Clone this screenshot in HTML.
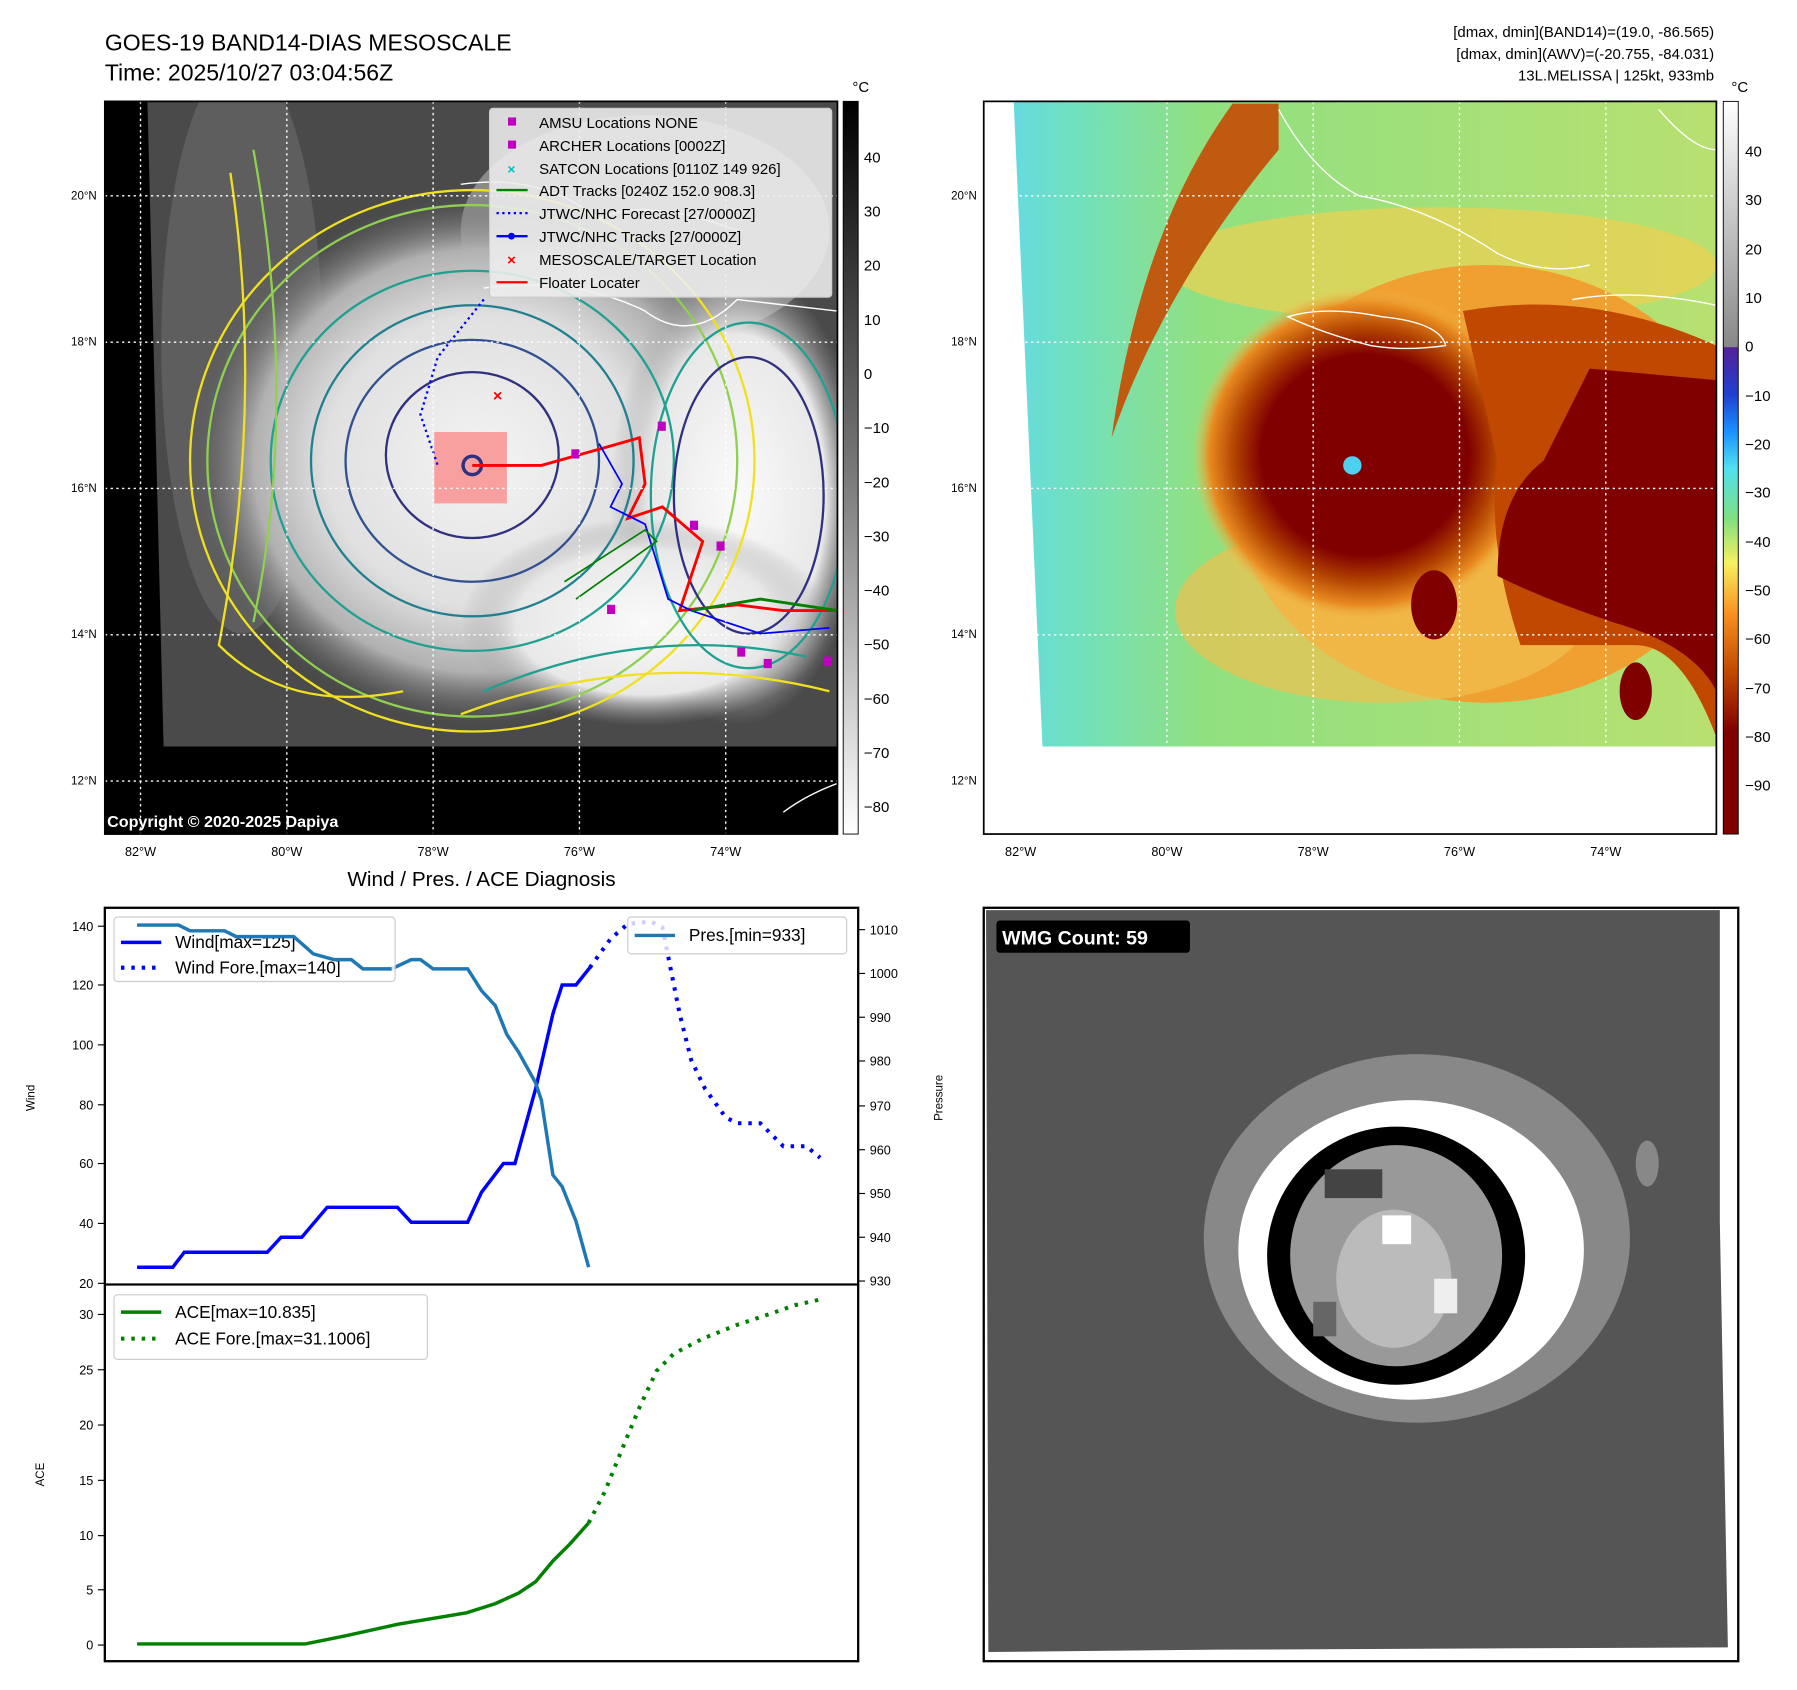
<!DOCTYPE html>
<html><head><meta charset="utf-8"><style>
html,body{margin:0;padding:0;background:#fff;}
svg{display:block;}
text{font-family:"Liberation Sans","DejaVu Sans",sans-serif;}
</style></head><body>
<svg width="1797" height="1690" viewBox="0 0 1560 1467" preserveAspectRatio="none" xmlns="http://www.w3.org/2000/svg">
<defs>
<clipPath id="clipL"><rect x="91" y="88" width="636" height="636"/></clipPath>
<clipPath id="clipR"><polygon points="880,88 1490,88 1490,648 905,648"/></clipPath>
<clipPath id="clipB"><rect x="91" y="788" width="654" height="654"/></clipPath>
<radialGradient id="cloud" cx="0.5" cy="0.5" r="0.5">
<stop offset="0" stop-color="#f4f4f4"/><stop offset="0.55" stop-color="#e0e0e0"/><stop offset="0.8" stop-color="#b0b0b0"/><stop offset="1" stop-color="#666" stop-opacity="0"/>
</radialGradient>
<radialGradient id="cloud2" cx="0.5" cy="0.5" r="0.5">
<stop offset="0" stop-color="#fafafa"/><stop offset="0.7" stop-color="#e8e8e8"/><stop offset="1" stop-color="#999" stop-opacity="0"/>
</radialGradient>
<linearGradient id="cbL" x1="0" y1="0" x2="0" y2="1">
<stop offset="0" stop-color="#000"/><stop offset="0.5" stop-color="#777"/><stop offset="1" stop-color="#fff"/>
</linearGradient>
<linearGradient id="cbR" x1="0" y1="0" x2="0" y2="1">
<stop offset="0" stop-color="#fff"/><stop offset="0.335" stop-color="#888"/><stop offset="0.336" stop-color="#55209a"/>
<stop offset="0.4" stop-color="#2040d0"/><stop offset="0.45" stop-color="#1a90ff"/><stop offset="0.5" stop-color="#50e0f0"/>
<stop offset="0.57" stop-color="#80e080"/><stop offset="0.63" stop-color="#f8f060"/><stop offset="0.7" stop-color="#f89020"/>
<stop offset="0.78" stop-color="#c04800"/><stop offset="0.86" stop-color="#800000"/><stop offset="1" stop-color="#800000"/>
</linearGradient>
<linearGradient id="bgR" x1="0" y1="0" x2="1" y2="0">
<stop offset="0" stop-color="#60d8f0"/><stop offset="0.12" stop-color="#70e0c0"/><stop offset="0.3" stop-color="#90e080"/><stop offset="1" stop-color="#b8e070"/>
</linearGradient>
<radialGradient id="eyeR" cx="0.5" cy="0.5" r="0.5">
<stop offset="0" stop-color="#800000"/><stop offset="0.6" stop-color="#800000"/><stop offset="0.75" stop-color="#b04000"/><stop offset="0.9" stop-color="#e88a20"/><stop offset="1" stop-color="#f0c050" stop-opacity="0"/>
</radialGradient>
</defs>

<text x="91" y="44" font-size="20">GOES-19 BAND14-DIAS MESOSCALE</text>
<text x="91" y="70" font-size="20">Time: 2025/10/27 03:04:56Z</text>
<text x="1488" y="32" font-size="13" text-anchor="end">[dmax, dmin](BAND14)=(19.0, -86.565)</text>
<text x="1488" y="51" font-size="13" text-anchor="end">[dmax, dmin](AWV)=(-20.755, -84.031)</text>
<text x="1488" y="70" font-size="13" text-anchor="end">13L.MELISSA | 125kt, 933mb</text>

<!-- LEFT MAP -->
<rect x="91" y="88" width="636" height="636" fill="#000"/>
<g clip-path="url(#clipL)">
<polygon points="128,88 727,88 727,648 142,648" fill="#4a4a4a"/>
<ellipse cx="210" cy="300" rx="70" ry="250" fill="#5e5e5e"/>
<ellipse cx="560" cy="200" rx="160" ry="100" fill="#8a8a8a"/>
<ellipse cx="420" cy="400" rx="250" ry="230" fill="url(#cloud)"/>
<ellipse cx="640" cy="430" rx="110" ry="200" fill="url(#cloud2)"/>
<ellipse cx="560" cy="540" rx="160" ry="90" fill="url(#cloud2)"/>
<g fill="none" stroke-width="2">
<ellipse cx="410" cy="400" rx="245" ry="235" stroke="#f0e020"/>
<ellipse cx="410" cy="400" rx="230" ry="222" stroke="#8fd050"/>
<ellipse cx="410" cy="400" rx="175" ry="165" stroke="#20a090"/>
<ellipse cx="410" cy="400" rx="140" ry="135" stroke="#208090"/>
<ellipse cx="410" cy="400" rx="110" ry="105" stroke="#305090"/>
<ellipse cx="410" cy="395" rx="75" ry="72" stroke="#303080"/>
<ellipse cx="650" cy="430" rx="65" ry="120" stroke="#303080"/>
<ellipse cx="650" cy="430" rx="85" ry="150" stroke="#20a090"/>
<path d="M200,150 Q230,350 190,560 Q250,620 350,600" stroke="#f0e020"/>
<path d="M220,130 Q260,350 220,540" stroke="#8fd050"/>
<path d="M400,620 Q560,560 720,600" stroke="#f0e020"/>
<path d="M420,600 Q560,540 700,570" stroke="#20a090"/>
</g>
<rect x="377" y="375" width="63" height="62" fill="#f8a0a0"/>
<circle cx="410" cy="404" r="8" fill="none" stroke="#303080" stroke-width="3"/>
<g fill="none" stroke-width="2.5">
<polyline points="410,404 470,404 520,390 555,380 560,420 545,450 575,440 610,470 600,500 590,530 640,525 680,530 727,530" stroke="#ff0000"/>
<polyline points="520,385 540,420 530,440 560,455 580,520 600,530 660,550 720,545" stroke="#0000ff" stroke-width="1.5"/>
<polyline points="490,505 560,460 570,470 500,520" stroke="#008000" stroke-width="1.5"/>
<polyline points="600,530 660,520 727,530" stroke="#008000"/>
<polyline points="420,260 380,310 365,360 380,404" stroke="#0000ff" stroke-dasharray="2,3" stroke-width="2"/>
</g>
<g fill="#c000c0">
<rect x="571" y="366" width="7" height="8"/><rect x="496" y="390" width="7" height="8"/><rect x="599" y="452" width="7" height="8"/><rect x="622" y="470" width="7" height="8"/><rect x="527" y="525" width="7" height="8"/><rect x="640" y="562" width="7" height="8"/><rect x="663" y="572" width="7" height="8"/><rect x="715" y="570" width="7" height="8"/>
</g>
<text x="432" y="348" font-size="14" fill="#f00" font-weight="bold" text-anchor="middle">×</text>
<g fill="none" stroke="#fff" stroke-width="1.2">
<path d="M420,250 Q500,240 560,270 Q600,300 640,260 L727,270"/>
<path d="M400,160 Q470,150 520,190 Q560,170 640,200"/>
<path d="M680,705 Q700,690 727,680"/>
</g>
</g>
<g stroke="#fff" stroke-dasharray="2,3" stroke-width="1.2">
<line x1="122" y1="88" x2="122" y2="724"/><line x1="249" y1="88" x2="249" y2="724"/><line x1="376" y1="88" x2="376" y2="724"/><line x1="503" y1="88" x2="503" y2="724"/><line x1="630" y1="88" x2="630" y2="724"/>
<line x1="91" y1="170" x2="727" y2="170"/><line x1="91" y1="297" x2="727" y2="297"/><line x1="91" y1="424" x2="727" y2="424"/><line x1="91" y1="551" x2="727" y2="551"/><line x1="91" y1="678" x2="727" y2="678"/>
</g>
<rect x="425" y="94" width="297" height="164" fill="#eee" fill-opacity="0.88" stroke="#ccc" rx="3"/>
<g font-size="13">
<rect x="441" y="102" width="7" height="7" fill="#c000c0"/><text x="468" y="111">AMSU Locations NONE</text>
<rect x="441" y="122" width="7" height="7" fill="#c000c0"/><text x="468" y="131">ARCHER Locations [0002Z]</text>
<text x="444" y="151" fill="#00c0c0" font-weight="bold" text-anchor="middle" font-size="12">×</text><text x="468" y="151">SATCON Locations [0110Z 149 926]</text>
<line x1="431" y1="165" x2="458" y2="165" stroke="#008000" stroke-width="2"/><text x="468" y="170">ADT Tracks [0240Z 152.0 908.3]</text>
<line x1="431" y1="185" x2="458" y2="185" stroke="#0000ff" stroke-width="2" stroke-dasharray="2,3"/><text x="468" y="190">JTWC/NHC Forecast [27/0000Z]</text>
<line x1="431" y1="205" x2="458" y2="205" stroke="#0000ff" stroke-width="2"/><circle cx="444" cy="205" r="3" fill="#00f"/><text x="468" y="210">JTWC/NHC Tracks [27/0000Z]</text>
<text x="444" y="230" fill="#f00" font-weight="bold" text-anchor="middle">×</text><text x="468" y="230">MESOSCALE/TARGET Location</text>
<line x1="431" y1="245" x2="458" y2="245" stroke="#f00" stroke-width="2"/><text x="468" y="250">Floater Locater</text>
</g>
<text x="93" y="718" font-size="14" fill="#fff" font-weight="bold">Copyright © 2020-2025 Dapiya</text>
<rect x="91" y="88" width="636" height="636" fill="none" stroke="#000" stroke-width="1.5"/>
<rect x="732" y="88" width="13" height="636" fill="url(#cbL)" stroke="#000" stroke-width="0.8"/>
<text x="740" y="80" font-size="13">°C</text>
<g font-size="13">
<text x="750" y="141">40</text><text x="750" y="188">30</text><text x="750" y="235">20</text><text x="750" y="282">10</text><text x="750" y="329">0</text>
<text x="750" y="376">−10</text><text x="750" y="423">−20</text><text x="750" y="470">−30</text><text x="750" y="517">−40</text><text x="750" y="564">−50</text><text x="750" y="611">−60</text><text x="750" y="658">−70</text><text x="750" y="705">−80</text>
</g>
<g font-size="10" text-anchor="end">
<text x="84" y="173">20°N</text><text x="84" y="300">18°N</text><text x="84" y="427">16°N</text><text x="84" y="554">14°N</text><text x="84" y="681">12°N</text>
</g>
<g font-size="11" text-anchor="middle">
<text x="122" y="743">82°W</text><text x="249" y="743">80°W</text><text x="376" y="743">78°W</text><text x="503" y="743">76°W</text><text x="630" y="743">74°W</text>
</g>

<!-- RIGHT MAP -->
<rect x="854" y="88" width="636" height="636" fill="#fff"/>
<g clip-path="url(#clipR)">
<rect x="854" y="88" width="636" height="636" fill="url(#bgR)"/>
<ellipse cx="1250" cy="230" rx="240" ry="50" fill="#f0d050" opacity="0.7"/>
<path d="M1110,90 L1070,90 Q990,200 965,380 Q1010,250 1110,130 Z" fill="#c05a10"/>
<ellipse cx="1290" cy="420" rx="220" ry="190" fill="#f0a030"/>
<ellipse cx="1200" cy="530" rx="180" ry="80" fill="#f0c050" opacity="0.7"/>
<ellipse cx="1185" cy="395" rx="150" ry="145" fill="url(#eyeR)"/>
<ellipse cx="1185" cy="392" rx="88" ry="85" fill="#800000"/>
<path d="M1270,270 Q1380,250 1490,300 L1490,640 Q1460,560 1420,560 Q1380,560 1320,560 Q1290,470 1300,400 Z" fill="#c04800"/>
<path d="M1380,320 L1490,330 L1490,600 Q1470,560 1400,540 Q1340,520 1300,500 Q1300,430 1340,400 Z" fill="#800000"/>
<ellipse cx="1245" cy="525" rx="20" ry="30" fill="#800000"/>
<ellipse cx="1420" cy="600" rx="14" ry="25" fill="#800000"/>
<ellipse cx="1174" cy="404" rx="8" ry="8" fill="#50d0f0"/>
<g fill="none" stroke="#fff" stroke-width="1.2">
<path d="M1118,275 Q1150,265 1200,275 Q1250,280 1255,300 Q1220,305 1190,300 Q1150,290 1118,275 Z"/>
<path d="M1110,95 Q1140,150 1180,170 Q1240,180 1300,220 Q1340,240 1380,230"/>
<path d="M1365,260 Q1420,250 1490,265"/>
<path d="M1440,95 Q1470,130 1490,130"/>
</g>
</g>
<g stroke="#fff" stroke-dasharray="2,3" stroke-width="1.2">
<line x1="1013" y1="88" x2="1013" y2="648"/><line x1="1140" y1="88" x2="1140" y2="648"/><line x1="1267" y1="88" x2="1267" y2="648"/><line x1="1394" y1="88" x2="1394" y2="648"/>
<line x1="880" y1="170" x2="1490" y2="170"/><line x1="880" y1="297" x2="1490" y2="297"/><line x1="880" y1="424" x2="1490" y2="424"/><line x1="880" y1="551" x2="1490" y2="551"/>
</g>
<rect x="854" y="88" width="636" height="636" fill="none" stroke="#000" stroke-width="1.5"/>
<rect x="1496" y="88" width="13" height="636" fill="url(#cbR)" stroke="#000" stroke-width="0.8"/>
<text x="1503" y="80" font-size="13">°C</text>
<g font-size="13">
<text x="1515" y="136">40</text><text x="1515" y="178">30</text><text x="1515" y="221">20</text><text x="1515" y="263">10</text><text x="1515" y="305">0</text>
<text x="1515" y="348">−10</text><text x="1515" y="390">−20</text><text x="1515" y="432">−30</text><text x="1515" y="475">−40</text><text x="1515" y="517">−50</text><text x="1515" y="559">−60</text><text x="1515" y="602">−70</text><text x="1515" y="644">−80</text><text x="1515" y="686">−90</text>
</g>
<g font-size="10" text-anchor="end">
<text x="848" y="173">20°N</text><text x="848" y="300">18°N</text><text x="848" y="427">16°N</text><text x="848" y="554">14°N</text><text x="848" y="681">12°N</text>
</g>
<g font-size="11" text-anchor="middle">
<text x="886" y="743">82°W</text><text x="1013" y="743">80°W</text><text x="1140" y="743">78°W</text><text x="1267" y="743">76°W</text><text x="1394" y="743">74°W</text>
</g>

<!-- BOTTOM LEFT CHART -->
<text x="418" y="769" font-size="18" text-anchor="middle">Wind / Pres. / ACE Diagnosis</text>
<rect x="91" y="788" width="654" height="654" fill="#fff" stroke="#000" stroke-width="2"/>
<line x1="91" y1="1115" x2="745" y2="1115" stroke="#000" stroke-width="2"/>
<g stroke="#000" stroke-width="1">
<line x1="85" y1="804" x2="91" y2="804"/><line x1="85" y1="855" x2="91" y2="855"/><line x1="85" y1="907" x2="91" y2="907"/><line x1="85" y1="959" x2="91" y2="959"/><line x1="85" y1="1010" x2="91" y2="1010"/><line x1="85" y1="1062" x2="91" y2="1062"/><line x1="85" y1="1114" x2="91" y2="1114"/>
<line x1="745" y1="807" x2="751" y2="807"/><line x1="745" y1="845" x2="751" y2="845"/><line x1="745" y1="883" x2="751" y2="883"/><line x1="745" y1="921" x2="751" y2="921"/><line x1="745" y1="960" x2="751" y2="960"/><line x1="745" y1="998" x2="751" y2="998"/><line x1="745" y1="1036" x2="751" y2="1036"/><line x1="745" y1="1074" x2="751" y2="1074"/><line x1="745" y1="1112" x2="751" y2="1112"/>
<line x1="85" y1="1141" x2="91" y2="1141"/><line x1="85" y1="1189" x2="91" y2="1189"/><line x1="85" y1="1237" x2="91" y2="1237"/><line x1="85" y1="1285" x2="91" y2="1285"/><line x1="85" y1="1333" x2="91" y2="1333"/><line x1="85" y1="1380" x2="91" y2="1380"/><line x1="85" y1="1428" x2="91" y2="1428"/>
</g>
<g font-size="11" text-anchor="end">
<text x="81" y="808">140</text><text x="81" y="859">120</text><text x="81" y="911">100</text><text x="81" y="963">80</text><text x="81" y="1014">60</text><text x="81" y="1066">40</text><text x="81" y="1118">20</text>
<text x="81" y="1145">30</text><text x="81" y="1193">25</text><text x="81" y="1241">20</text><text x="81" y="1289">15</text><text x="81" y="1337">10</text><text x="81" y="1384">5</text><text x="81" y="1432">0</text>
</g>
<g font-size="11">
<text x="755" y="811">1010</text><text x="755" y="849">1000</text><text x="755" y="887">990</text><text x="755" y="925">980</text><text x="755" y="964">970</text><text x="755" y="1002">960</text><text x="755" y="1040">950</text><text x="755" y="1078">940</text><text x="755" y="1116">930</text>
</g>
<text x="30" y="953" font-size="10" transform="rotate(-90 30 953)" text-anchor="middle">Wind</text>
<text x="818" y="953" font-size="10" transform="rotate(-90 818 953)" text-anchor="middle">Pressure</text>
<text x="38" y="1280" font-size="10" transform="rotate(-90 38 1280)" text-anchor="middle">ACE</text>
<g fill="none" stroke-width="3">
<polyline stroke="#0000ff" points="119,1100 150,1100 160,1087 232,1087 244,1074 262,1074 284,1048 345,1048 357,1061 406,1061 418,1035 437,1010 447,1010 465,945 480,880 488,855 500,855 512,840"/>
<polyline stroke="#0000ff" stroke-dasharray="3,6" stroke-width="3.5" points="512,840 530,815 545,802 565,800 575,805 580,830 590,880 600,920 612,945 630,970 640,975 660,975 670,985 680,995 700,995 712,1005"/>
<polyline stroke="#1f77b4" points="119,803 155,803 165,808 195,808 205,813 255,813 272,828 290,833 305,833 315,841 340,841 357,833 365,833 376,841 406,841 418,860 430,873 440,898 450,913 465,940 470,955 480,1020 488,1030 500,1060 511,1100"/>
<polyline stroke="#008000" points="119,1427 265,1427 300,1420 345,1410 405,1400 430,1392 450,1383 465,1373 480,1355 495,1340 511,1322"/>
<polyline stroke="#008000" stroke-dasharray="3,6" stroke-width="3.5" points="511,1322 525,1295 540,1258 555,1222 570,1190 585,1175 610,1162 640,1150 670,1140 690,1133 712,1128"/>
</g>
<rect x="99" y="796" width="244" height="56" fill="#fff" fill-opacity="0.8" stroke="#ccc" rx="3"/>
<line x1="105" y1="818" x2="140" y2="818" stroke="#00f" stroke-width="3"/><text x="152" y="823" font-size="15">Wind[max=125]</text>
<line x1="105" y1="840" x2="140" y2="840" stroke="#00f" stroke-width="3.5" stroke-dasharray="3,6"/><text x="152" y="845" font-size="15">Wind Fore.[max=140]</text>
<polyline fill="none" stroke="#1f77b4" stroke-width="3" points="119,803 155,803 165,808 195,808 205,813 255,813 272,828 290,833 305,833 315,841 340,841"/>
<rect x="545" y="796" width="190" height="32" fill="#fff" fill-opacity="0.8" stroke="#ccc" rx="3"/>
<line x1="551" y1="812" x2="586" y2="812" stroke="#1f77b4" stroke-width="3"/><text x="598" y="817" font-size="15">Pres.[min=933]</text>
<rect x="99" y="1124" width="272" height="56" fill="#fff" fill-opacity="0.8" stroke="#ccc" rx="3"/>
<line x1="105" y1="1139" x2="140" y2="1139" stroke="#008000" stroke-width="3"/><text x="152" y="1144" font-size="15">ACE[max=10.835]</text>
<line x1="105" y1="1162" x2="140" y2="1162" stroke="#008000" stroke-width="3.5" stroke-dasharray="3,6"/><text x="152" y="1167" font-size="15">ACE Fore.[max=31.1006]</text>

<!-- BOTTOM RIGHT WMG -->
<rect x="854" y="788" width="655" height="654" fill="#fff"/>
<polygon points="856,790 1493,790 1493,1060 1500,1430 1058,1432 858,1434" fill="#555"/>
<ellipse cx="1230" cy="1075" rx="185" ry="160" fill="#888"/>
<ellipse cx="1430" cy="1010" rx="10" ry="20" fill="#888"/>
<ellipse cx="1225" cy="1085" rx="150" ry="130" fill="#fff"/>
<ellipse cx="1212" cy="1090" rx="112" ry="112" fill="#000"/>
<ellipse cx="1212" cy="1090" rx="92" ry="96" fill="#999"/>
<ellipse cx="1210" cy="1110" rx="50" ry="60" fill="#bbb"/>
<rect x="1150" y="1015" width="50" height="25" fill="#444"/>
<rect x="1200" y="1055" width="25" height="25" fill="#fff"/>
<rect x="1245" y="1110" width="20" height="30" fill="#eee"/>
<rect x="1140" y="1130" width="20" height="30" fill="#666"/>
<rect x="865" y="799" width="168" height="28" rx="3" fill="#000"/>
<text x="870" y="820" font-size="17" font-weight="bold" fill="#fff">WMG Count: 59</text>
<rect x="854" y="788" width="655" height="654" fill="none" stroke="#000" stroke-width="2"/>
</svg>
</body></html>
